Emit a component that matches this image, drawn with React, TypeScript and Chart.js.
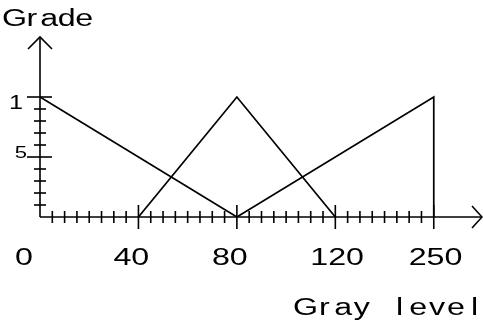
import React, { useEffect, useRef } from "react";
import { Chart, registerables } from "chart.js";

Chart.register(...registerables);

// ---- data ----
const grayLevelTicks = [0, 40, 80, 120, 250];
const grayLevelLabels = ["0", "40", "80", "120", "250"];
const minorTicksPerSegment = 7;
const gradeMinorTicks = [0.1, 0.2, 0.3, 0.4, 0.6, 0.7, 0.8, 0.9];
const gradeMajorTicks = [0.5, 1];
const gradeLabels = ["5", "1"];

const darkX = [0, 80];
const darkY = [1, 0];
const mediumX = [40, 80, 120];
const mediumY = [0, 1, 0];
const brightX = [80, 250, 250];
const brightY = [0, 1, 0];

const yTitle = "Grade";
const xTitle = "Gray level";

// gray level -> position on the (segment-evenly-spaced) axis
function axisPos(g: number): number {
  for (let i = 0; i < grayLevelTicks.length - 1; i++) {
    const a = grayLevelTicks[i];
    const b = grayLevelTicks[i + 1];
    if (g >= a && g <= b) return i + (g - a) / (b - a);
  }
  return grayLevelTicks.length - 1;
}

function toPoints(xs: number[], ys: number[]) {
  return xs.map((x, i) => ({ x: axisPos(x), y: ys[i] }));
}

const FONT = '"Liberation Sans", Arial, sans-serif';

function drawSpaced(
  ctx: CanvasRenderingContext2D,
  text: string,
  firstCenter: number,
  advance: number,
  baseline: number,
  size: number,
  sx: number
) {
  ctx.font = `${size}px ${FONT}`;
  ctx.textAlign = "center";
  ctx.textBaseline = "alphabetic";
  ctx.fillStyle = "#000";
  for (let i = 0; i < text.length; i++) {
    const c = text[i];
    if (c === " ") continue;
    ctx.save();
    ctx.translate(firstCenter + i * advance, baseline);
    ctx.scale(sx, 1);
    ctx.fillText(c, 0, 0);
    ctx.restore();
  }
}

const decorPlugin = {
  id: "axesDecor",
  afterDatasetsDraw(chart: any) {
    const ctx: CanvasRenderingContext2D = chart.ctx;
    const xs = chart.scales.x;
    const ys = chart.scales.y;
    const area = chart.chartArea;
    const x0 = xs.getPixelForValue(0);
    const y0 = ys.getPixelForValue(0);
    const xEnd = area.right;
    const yEnd = area.top;

    const seg = (a: number, b: number, c: number, d: number) => {
      ctx.beginPath();
      ctx.moveTo(a, b);
      ctx.lineTo(c, d);
      ctx.stroke();
    };

    ctx.save();
    ctx.strokeStyle = "#000";
    ctx.lineWidth = 1.6;
    ctx.lineCap = "butt";

    // axes
    seg(x0, y0, xEnd, y0);
    seg(x0, y0, x0, yEnd);
    // arrows
    ctx.beginPath();
    ctx.moveTo(xEnd - 10, y0 - 11);
    ctx.lineTo(xEnd, y0);
    ctx.lineTo(xEnd - 10, y0 + 11);
    ctx.stroke();
    ctx.beginPath();
    ctx.moveTo(x0 - 12, yEnd + 12);
    ctx.lineTo(x0, yEnd);
    ctx.lineTo(x0 + 12, yEnd + 12);
    ctx.stroke();

    // x ticks
    for (let i = 0; i < grayLevelTicks.length - 1; i++) {
      for (let k = 1; k <= minorTicksPerSegment; k++) {
        const px = xs.getPixelForValue(i + k / (minorTicksPerSegment + 1));
        seg(px, y0 - 6, px, y0 + 6);
      }
    }
    for (let i = 1; i < grayLevelTicks.length; i++) {
      const px = xs.getPixelForValue(axisPos(grayLevelTicks[i]));
      seg(px, y0 - 12, px, y0 + 12);
    }

    // y ticks
    gradeMinorTicks.forEach((v) => {
      const py = ys.getPixelForValue(v);
      seg(x0 - 6, py, x0 + 6, py);
    });
    gradeMajorTicks.forEach((v) => {
      const py = ys.getPixelForValue(v);
      seg(x0 - 13, py, x0 + 12, py);
    });

    // x tick labels
    grayLevelTicks.forEach((g, i) => {
      const px = xs.getPixelForValue(axisPos(g));
      drawSpaced(ctx, grayLevelLabels[i], px - 16, 17.8, y0 + 48, 23, 1.4);
    });

    // y tick labels
    const p5 = ys.getPixelForValue(gradeMajorTicks[0]);
    drawSpaced(ctx, gradeLabels[0], x0 - 19, 12, p5 + 1, 17, 1.3);
    const p1 = ys.getPixelForValue(gradeMajorTicks[1]);
    drawSpaced(ctx, gradeLabels[1], x0 - 24, 12, p1 + 12, 21, 1.2);

    // titles
    drawSpaced(ctx, yTitle, 14.5, 17.4, 26, 23, 1.4);
    drawSpaced(ctx, xTitle, 305.5, 18.8, 315, 23, 1.4);

    ctx.restore();
  },
};

export default function App() {
  const ref = useRef<HTMLCanvasElement | null>(null);

  useEffect(() => {
    const canvas = ref.current;
    if (!canvas) return;
    const lineStyle = {
      borderColor: "#000",
      borderWidth: 1.7,
      pointRadius: 0,
      tension: 0,
      fill: false,
    };
    const chart = new Chart(canvas, {
      type: "line",
      data: {
        datasets: [
          { label: "dark", data: toPoints(darkX, darkY), ...lineStyle },
          { label: "medium", data: toPoints(mediumX, mediumY), ...lineStyle },
          { label: "bright", data: toPoints(brightX, brightY), ...lineStyle },
        ],
      },
      options: {
        responsive: false,
        animation: false,
        layout: { padding: { left: 40, right: 1, top: 37, bottom: 105 } },
        plugins: {
          legend: { display: false },
          tooltip: { enabled: false },
          title: { display: false },
        },
        scales: {
          x: { type: "linear", min: 0, max: 4.49, display: false },
          y: { type: "linear", min: 0, max: 1.5, display: false },
        },
      },
      plugins: [decorPlugin],
    } as any);
    return () => chart.destroy();
  }, []);

  return (
    <div
      style={{
        position: "fixed",
        left: 0,
        top: 0,
        width: 483,
        height: 322,
        background: "#fff",
      }}
    >
      <canvas ref={ref} width={483} height={322} style={{ display: "block" }} />
    </div>
  );
}
